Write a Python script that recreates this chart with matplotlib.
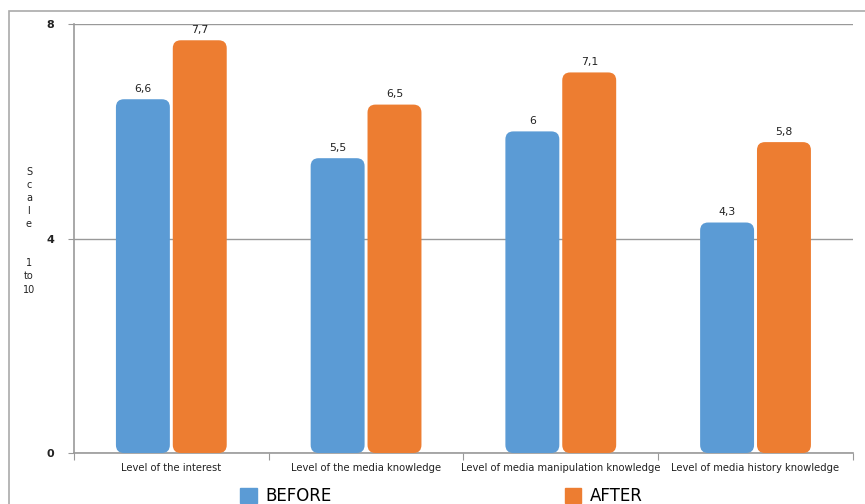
import matplotlib
matplotlib.use("Agg")
import matplotlib.pyplot as plt
from matplotlib.patches import FancyBboxPatch, Rectangle
import numpy as np

categories = ["Level of the interest", "Level of the media knowledge",
              "Level of media manipulation knowledge", "Level of media history knowledge"]
before = [6.6, 5.5, 6.0, 4.3]
after = [7.7, 6.5, 7.1, 5.8]
series_names = ["BEFORE", "AFTER"]
colors = ["#5B9BD5", "#ED7D31"]
y_ticks = [0, 4, 8]

plt.rcParams["font.family"] = ["DejaVu Sans"]

fig = plt.figure(figsize=(8.65, 5.04), dpi=100)
ax = fig.add_axes([0.0855, 0.1012, 0.9005, 0.8508])

x = np.arange(len(categories))
width = 0.277
offsets = [-0.146, 0.146]

ax.set_xlim(-0.5, len(categories) - 0.5)
ax.set_ylim(0, 8)

# pixel-to-data aspect for rounded corners
fig.canvas.draw()
bbox = ax.get_window_extent()
x_per_px = (len(categories)) / bbox.width
y_per_px = 8 / bbox.height
aspect = y_per_px / x_per_px
radius = 8 * x_per_px

def fmt(v):
    s = f"{v:.1f}".rstrip("0").rstrip(".")
    return s.replace(".", ",")

for vals, off, col in zip([before, after], offsets, colors):
    bars = ax.bar(x + off, vals, width=width, color=col)
    for rect, v in zip(bars, vals):
        rect.set_visible(False)
        rb = FancyBboxPatch((rect.get_x(), rect.get_y()), rect.get_width(), rect.get_height(),
                            boxstyle=f"round,pad=0,rounding_size={radius}",
                            mutation_aspect=aspect, facecolor=col, edgecolor="none", zorder=3)
        ax.add_patch(rb)
        ax.annotate(fmt(v), (rect.get_x() + rect.get_width() / 2, v),
                    xytext=(0, 4), textcoords="offset points",
                    ha="center", va="bottom", fontsize=7.8, color="#222222")

ax.set_yticks(y_ticks)
ax.set_yticklabels([str(t) for t in y_ticks], fontsize=8, fontweight="bold", color="#222222")
ax.yaxis.grid(True, color="#999999", linewidth=1)
ax.set_axisbelow(True)
ax.tick_params(axis="y", length=4, color="#999999", pad=13)
for lbl in ax.get_yticklabels():
    lbl.set_horizontalalignment("center")

ax.set_xticks(np.arange(-0.5, len(categories) + 0.5, 1.0))
ax.set_xticklabels([])
ax.set_xticks(x, minor=True)
ax.set_xticklabels(categories, minor=True, fontsize=7.2, color="#222222")
ax.tick_params(axis="x", which="major", length=5, color="#999999")
ax.tick_params(axis="x", which="minor", length=0, pad=7)

for s in ["top", "right"]:
    ax.spines[s].set_visible(False)
for s in ["left", "bottom"]:
    ax.spines[s].set_color("#999999")
    ax.spines[s].set_linewidth(1.2)

fig.text(0.0335, 0.542, "S\nc\na\nl\ne\n\n\n1\nto\n10", ha="center", va="center",
         fontsize=7, linespacing=1.38, color="#222222")

# outer frame
frame = Rectangle((0.0104, -0.05), 1.1, 1.028, transform=fig.transFigure,
                  fill=False, edgecolor="#aaaaaa", linewidth=1.2)
fig.patches.append(frame)

handles = [Rectangle((0, 0), 1, 1, color=c) for c in colors]
fig.legend(handles, series_names, loc="center", bbox_to_anchor=(0.51, 0.015),
           ncol=2, frameon=False, fontsize=12, handlelength=1.0, handleheight=1.0,
           handletextpad=0.5, columnspacing=14)

fig.savefig("out.png", dpi=100)
